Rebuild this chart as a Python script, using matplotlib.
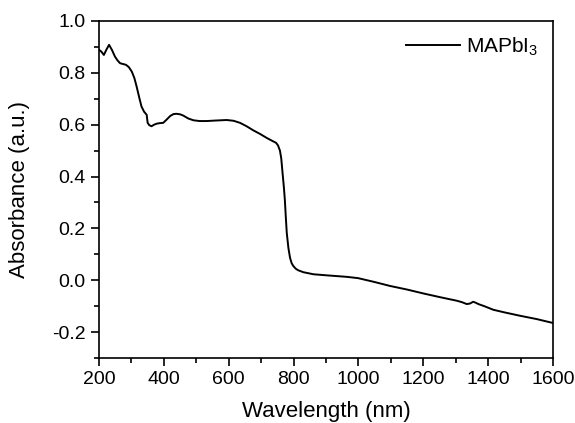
import matplotlib
matplotlib.use("Agg")
import matplotlib.pyplot as plt
from matplotlib.ticker import MultipleLocator

# absorbance spectrum
wavelength = [200, 207, 215, 223, 231, 240, 249, 257, 265, 274, 283, 292, 301, 309,
              316, 324, 331, 339, 347, 350, 355, 362, 370, 378, 388, 398, 408, 420,
              430, 439, 450, 460, 475, 491, 510, 532, 560, 594, 615, 635, 655, 676,
              697, 717, 735, 746, 752, 758, 762, 766, 770, 773, 776, 779, 784, 789,
              794, 799, 807, 815, 830, 861, 900, 964, 999, 1050, 1097, 1150, 1200,
              1250, 1303, 1320, 1334, 1344, 1354, 1362, 1370, 1390, 1416, 1450, 1498,
              1550, 1600]
absorbance = [0.889, 0.882, 0.869, 0.890, 0.908, 0.888, 0.863, 0.848, 0.837, 0.834,
              0.831, 0.822, 0.805, 0.780, 0.747, 0.705, 0.670, 0.650, 0.638, 0.607,
              0.598, 0.594, 0.600, 0.604, 0.606, 0.607, 0.619, 0.634, 0.641, 0.642,
              0.640, 0.635, 0.624, 0.617, 0.614, 0.614, 0.616, 0.618, 0.615, 0.607,
              0.594, 0.578, 0.564, 0.549, 0.537, 0.530, 0.520, 0.500, 0.470, 0.414,
              0.360, 0.312, 0.245, 0.183, 0.125, 0.087, 0.066, 0.055, 0.044, 0.038,
              0.031, 0.023, 0.019, 0.013, 0.008, -0.007, -0.022, -0.036, -0.051,
              -0.065, -0.079, -0.085, -0.092, -0.090, -0.083, -0.087, -0.092, -0.101,
              -0.114, -0.124, -0.137, -0.150, -0.165]
series_name = "MAPbI$_3$"

plt.rcParams["font.family"] = ["Liberation Sans", "DejaVu Sans"]
plt.rcParams["mathtext.default"] = "regular"

fig = plt.figure(figsize=(5.75, 4.23), dpi=100)
ax = fig.add_axes([0.1722, 0.1537, 0.7895, 0.7967])

ax.plot(wavelength, absorbance, color="black", linewidth=1.4, label=series_name,
        solid_joinstyle="round")

ax.set_xlim(200, 1600)
ax.set_ylim(-0.3, 1.0)
ax.xaxis.set_major_locator(MultipleLocator(200))
ax.xaxis.set_minor_locator(MultipleLocator(100))
ax.yaxis.set_minor_locator(MultipleLocator(0.1))
ax.set_yticks([-0.2, 0.0, 0.2, 0.4, 0.6, 0.8, 1.0])
ax.set_yticklabels(["-0.2", "0.0", "0.2", "0.4", "0.6", "0.8", "1.0"])

ax.tick_params(which="both", direction="out", top=False, right=False, labelsize=14,
               width=1.2)
ax.tick_params(which="major", length=6)
ax.tick_params(which="minor", length=3.5)
for s in ax.spines.values():
    s.set_linewidth(1.2)

ax.set_xlabel("Wavelength (nm)", fontsize=16, labelpad=9)
ax.set_ylabel("Absorbance (a.u.)", fontsize=16, labelpad=16)

ax.legend(loc="upper right", frameon=False, fontsize=15, handlelength=2.6,
          handletextpad=0.3, borderaxespad=0.3)

fig.savefig("out.png", dpi=100)
